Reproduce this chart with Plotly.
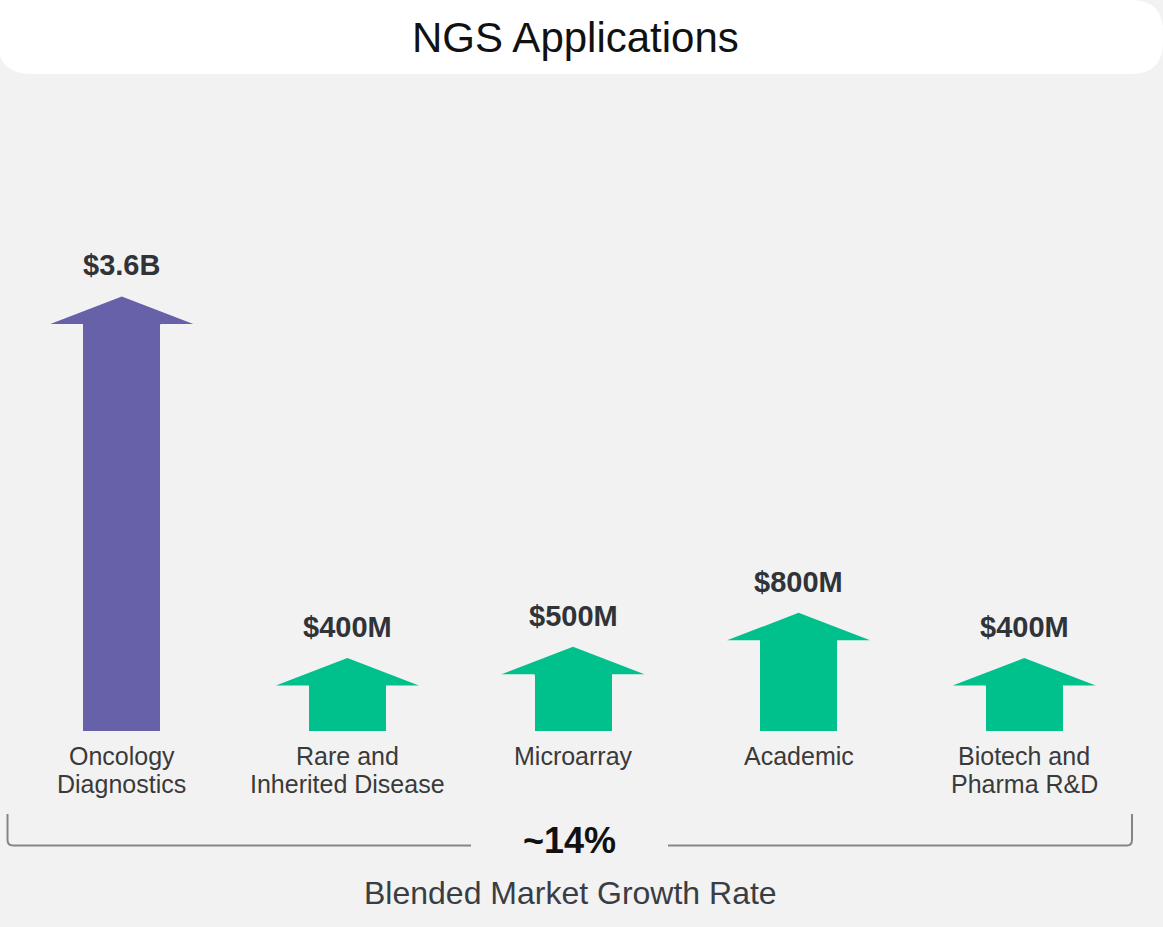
import plotly.graph_objects as go

# Market size by NGS application (USD millions)
categories = ["Oncology Diagnostics", "Rare and Inherited Disease", "Microarray",
              "Academic", "Biotech and Pharma R&D"]
label_lines = [("Oncology", "Diagnostics"), ("Rare and", "Inherited Disease"),
               ("Microarray", ""), ("Academic", ""), ("Biotech and", "Pharma R&D")]
values_musd = [3600, 400, 500, 800, 400]
value_labels = ["$3.6B", "$400M", "$500M", "$800M", "$400M"]
growth_label = "~14%"
growth_caption = "Blended Market Growth Rate"
title_text = "NGS Applications"

W, H = 1163, 927
BG = "#f2f2f2"
PURPLE = "#6761a9"
GREEN = "#00c18c"
FONT = "Liberation Sans, Arial, Helvetica, sans-serif"

# Axis geometry (pixels per unit)
px_per_cat = 225.6
first_center_px = 121.8
px_per_m = 0.113
base_px = 730.7
x0 = -first_center_px / px_per_cat
x1 = x0 + W / px_per_cat
y_top = base_px / px_per_m
y_bot = -(H - base_px) / px_per_m

shaft_w = 77 / px_per_cat
head_half = 71.5 / px_per_cat
head_h = 27.5 / px_per_m
seam = 1.0 / px_per_m  # tiny overlap so head and shaft join cleanly

colors = [PURPLE] + [GREEN] * (len(values_musd) - 1)
xs = list(range(len(categories)))

fig = go.Figure()

# Arrow shafts
fig.add_trace(go.Bar(x=xs, y=values_musd, width=shaft_w, marker=dict(color=colors, line=dict(width=0)),
                     hoverinfo="skip", showlegend=False))

# Arrow heads sitting on top of each shaft
for i, (v, c) in enumerate(zip(values_musd, colors)):
    fig.add_trace(go.Scatter(x=[i - head_half, i, i + head_half, i + shaft_w / 2, i + shaft_w / 2,
                                i - shaft_w / 2, i - shaft_w / 2, i - head_half],
                             y=[v, v + head_h, v, v, v - seam, v - seam, v, v],
                             mode="lines", fill="toself",
                             fillcolor=c, line=dict(width=0, color=c),
                             hoverinfo="skip", showlegend=False))

annotations = []
for i, (v, lab) in enumerate(zip(values_musd, value_labels)):
    annotations.append(dict(x=i, y=v + head_h, xref="x", yref="y", text=f"<b>{lab}</b>",
                            showarrow=False, yshift=31, yanchor="middle",
                            font=dict(family=FONT, size=29, color="#303338")))
for i, (l1, l2) in enumerate(label_lines):
    annotations.append(dict(x=i, y=0, xref="x", yref="y", text=l1, showarrow=False,
                            yshift=-25.5, yanchor="middle", borderpad=0,
                            font=dict(family=FONT, size=25, color="#3a3a3a")))
    if l2:
        annotations.append(dict(x=i, y=0, xref="x", yref="y", text=l2, showarrow=False,
                                yshift=-53.5, yanchor="middle", borderpad=0,
                                font=dict(family=FONT, size=25, color="#3a3a3a")))


def px(xp, yp):
    return f"{xp / W:.5f},{1 - yp / H:.5f}"


# Title banner
annotations.append(dict(x=575 / W, y=1 - 37 / H, xref="paper", yref="paper", text=title_text,
                        showarrow=False, xanchor="center", yanchor="middle",
                        font=dict(family=FONT, size=42, color="#111111")))
# Growth rate bracket labels
annotations.append(dict(x=569 / W, y=1 - 840 / H, xref="paper", yref="paper",
                        text=f"<b>{growth_label}</b>", showarrow=False, yanchor="middle",
                        font=dict(family=FONT, size=36, color="#111111")))
annotations.append(dict(x=570 / W, y=1 - 893 / H, xref="paper", yref="paper",
                        text=growth_caption, showarrow=False, yanchor="middle",
                        font=dict(family=FONT, size=32, color="#3a3d44")))

r = 32
banner = (f"M {px(-2, 0)} L {px(W - r, 0)} Q {px(W, 0)} {px(W, r)} L {px(W, 74 - r)} "
          f"Q {px(W, 74)} {px(W - r, 74)} L {px(r, 74)} Q {px(-2, 74)} {px(-2, 74 - r)} Z")
bracket_left = (f"M {px(7.5, 814)} L {px(7.5, 840)} Q {px(7.5, 845.5)} {px(13, 845.5)} "
                f"L {px(471, 845.5)}")
bracket_right = (f"M {px(668, 845.5)} L {px(1127, 845.5)} Q {px(1132, 845.5)} "
                 f"{px(1132, 840)} L {px(1132, 814)}")

shapes = [
    dict(type="path", xref="paper", yref="paper", path=banner, fillcolor="white",
         line=dict(width=0), layer="below"),
    dict(type="path", xref="paper", yref="paper", path=bracket_left,
         line=dict(color="#868686", width=2)),
    dict(type="path", xref="paper", yref="paper", path=bracket_right,
         line=dict(color="#868686", width=2)),
]

fig.update_layout(
    width=W, height=H, margin=dict(l=0, r=0, t=0, b=0),
    paper_bgcolor=BG, plot_bgcolor=BG,
    xaxis=dict(range=[x0, x1], visible=False, fixedrange=True),
    yaxis=dict(range=[y_bot, y_top], visible=False, fixedrange=True),
    annotations=annotations, shapes=shapes, showlegend=False, bargap=0,
)

fig.write_html("out.html", config={"displayModeBar": False})
